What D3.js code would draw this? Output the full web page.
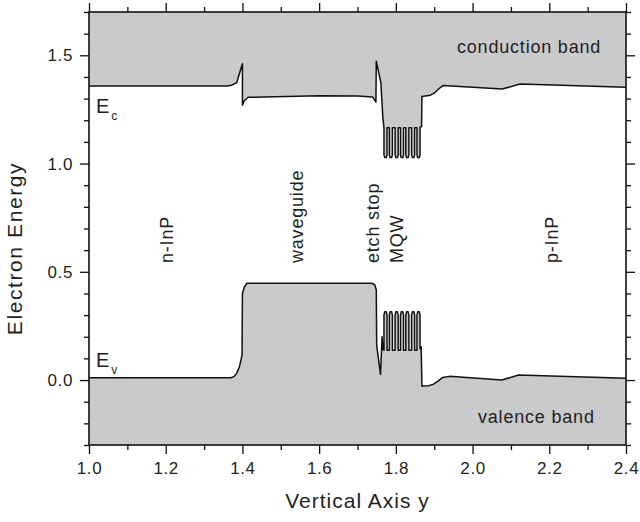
<!DOCTYPE html>
<html><head><meta charset="utf-8">
<script src="https://cdn.jsdelivr.net/npm/d3@7/dist/d3.min.js"></script>
<style>
body{margin:0;background:#fff}
text{font-family:"Liberation Sans",Arial,Helvetica,sans-serif;fill:#231f20}
</style>
</head><body>
<svg id="chart" width="640" height="522"></svg>
<script>
// ---------- data ----------
const xDomain = [1.0, 2.4];
const yDomain = [-0.3, 1.7];
const xMajorTicks = [1.0, 1.2, 1.4, 1.6, 1.8, 2.0, 2.2, 2.4];
const xMinorTicks = [1.1, 1.3, 1.5, 1.7, 1.9, 2.1, 2.3];
const yMajorTicks = [0.0, 0.5, 1.0, 1.5];
const yMinorTicks = [-0.3, -0.2, -0.1, 0.1, 0.2, 0.3, 0.4, 0.6, 0.7, 0.8, 0.9, 1.1, 1.2, 1.3, 1.4, 1.6, 1.7];
const xTickLabels = ["1.0", "1.2", "1.4", "1.6", "1.8", "2.0", "2.2", "2.4"];
const yTickLabels = ["0.0", "0.5", "1.0", "1.5"];

// conduction band edge Ec (position y, energy)
const conductionBand = [
  [1.000,1.358],[1.360,1.358],[1.372,1.362],[1.385,1.373],[1.400,1.461],[1.400,1.270],
  [1.405,1.290],[1.415,1.306],[1.600,1.313],[1.700,1.312],[1.740,1.307],[1.748,1.284],
  [1.749,1.473],[1.761,1.372],[1.766,1.215],[1.769,1.165],
  [1.769,1.040],[1.771,1.028],[1.775,1.028],[1.777,1.040],[1.777,1.165],
  [1.783,1.165],[1.783,1.040],[1.785,1.028],[1.789,1.028],[1.791,1.040],[1.791,1.165],
  [1.798,1.165],[1.798,1.040],[1.800,1.028],[1.804,1.028],[1.806,1.040],[1.806,1.165],
  [1.812,1.165],[1.812,1.040],[1.814,1.028],[1.818,1.028],[1.820,1.040],[1.820,1.165],
  [1.826,1.165],[1.826,1.040],[1.828,1.028],[1.832,1.028],[1.834,1.040],[1.834,1.165],
  [1.841,1.165],[1.841,1.040],[1.843,1.028],[1.847,1.028],[1.849,1.040],[1.849,1.165],
  [1.855,1.165],[1.855,1.040],[1.857,1.028],[1.861,1.028],[1.863,1.040],[1.863,1.168],
  [1.867,1.170],[1.868,1.310],[1.890,1.316],[1.900,1.325],[1.915,1.350],[1.923,1.360],
  [2.077,1.344],[2.124,1.367],[2.400,1.352]
];

// valence band edge Ev (position y, energy)
const valenceBand = [
  [1.000,0.011],[1.370,0.011],[1.378,0.016],[1.385,0.032],[1.392,0.060],[1.399,0.115],
  [1.400,0.400],[1.405,0.430],[1.412,0.447],[1.737,0.447],[1.745,0.440],[1.749,0.416],
  [1.750,0.160],[1.760,0.026],[1.764,0.200],[1.766,0.140],[1.769,0.138],
  [1.769,0.300],[1.771,0.315],[1.775,0.315],[1.777,0.300],[1.777,0.138],
  [1.783,0.138],[1.783,0.300],[1.785,0.315],[1.789,0.315],[1.791,0.300],[1.791,0.138],
  [1.798,0.138],[1.798,0.300],[1.800,0.315],[1.804,0.315],[1.806,0.300],[1.806,0.138],
  [1.812,0.138],[1.812,0.300],[1.814,0.315],[1.818,0.315],[1.820,0.300],[1.820,0.138],
  [1.826,0.138],[1.826,0.300],[1.828,0.315],[1.832,0.315],[1.834,0.300],[1.834,0.138],
  [1.841,0.138],[1.841,0.300],[1.843,0.315],[1.847,0.315],[1.849,0.300],[1.849,0.138],
  [1.855,0.138],[1.855,0.300],[1.857,0.315],[1.861,0.315],[1.863,0.300],[1.863,0.145],
  [1.866,0.154],[1.868,-0.028],[1.885,-0.026],[1.897,-0.020],[1.910,-0.005],[1.922,0.012],
  [1.940,0.017],[2.076,0.000],[2.120,0.023],[2.400,0.008]
];

const regionLabels = [
  {x: 1.22, text: "n-InP"},
  {x: 1.55, text: "waveguide"},
  {x: 1.75, text: "etch stop"},
  {x: 1.81, text: "MQW"},
  {x: 2.25, text: "p-InP"}
];

// ---------- drawing ----------
const svg = d3.select("#chart");
const L = 89, R = 626, T = 12, B = 445;
const x = d3.scaleLinear().domain(xDomain).range([L, R]);
const y = d3.scaleLinear().domain(yDomain).range([B, T]);
const fillGray = "#c9cacc";

svg.append("defs").append("clipPath").attr("id", "plotClip")
  .append("rect").attr("x", L).attr("y", T).attr("width", R - L).attr("height", B - T);

const plot = svg.append("g").attr("clip-path", "url(#plotClip)");

const cArea = d3.area().x(d => x(d[0])).y0(y(yDomain[1])).y1(d => y(d[1]));
const vArea = d3.area().x(d => x(d[0])).y0(y(yDomain[0])).y1(d => y(d[1]));
const line = d3.line().x(d => x(d[0])).y(d => y(d[1]));

plot.append("path").datum(conductionBand).attr("d", cArea).attr("fill", fillGray);
plot.append("path").datum(valenceBand).attr("d", vArea).attr("fill", fillGray);
plot.append("path").datum(conductionBand).attr("d", line)
  .attr("fill", "none").attr("stroke", "#111").attr("stroke-width", 1.5).attr("stroke-linejoin", "round");
plot.append("path").datum(valenceBand).attr("d", line)
  .attr("fill", "none").attr("stroke", "#111").attr("stroke-width", 1.5).attr("stroke-linejoin", "round");

// axes
function styleAxis(g) {
  g.select(".domain").remove();
  g.selectAll(".tick line").attr("stroke", "#111").attr("stroke-width", 1.3);
  g.selectAll(".tick text").attr("font-size", 17).attr("letter-spacing", "0.6px")
    .attr("fill", "#231f20").attr("font-family", '"Liberation Sans", Arial, sans-serif');
}
const fmtX = (d, i) => xTickLabels[i];
const fmtY = (d, i) => yTickLabels[i];

svg.append("g").attr("transform", `translate(0,${B})`)
  .call(d3.axisBottom(x).tickValues(xMajorTicks).tickSize(9).tickPadding(8).tickFormat(fmtX)).call(styleAxis);
svg.append("g").attr("transform", `translate(0,${B})`)
  .call(d3.axisBottom(x).tickValues(xMinorTicks).tickSize(5).tickFormat("")).call(styleAxis);
svg.append("g").attr("transform", `translate(0,${T})`)
  .call(d3.axisTop(x).tickValues(xMajorTicks).tickSize(9).tickFormat("")).call(styleAxis);
svg.append("g").attr("transform", `translate(0,${T})`)
  .call(d3.axisTop(x).tickValues(xMinorTicks).tickSize(5).tickFormat("")).call(styleAxis);

svg.append("g").attr("transform", `translate(${L},0)`)
  .call(d3.axisLeft(y).tickValues(yMajorTicks).tickSize(9).tickPadding(7).tickFormat(fmtY)).call(styleAxis);
svg.append("g").attr("transform", `translate(${L},0)`)
  .call(d3.axisLeft(y).tickValues(yMinorTicks).tickSize(5).tickFormat("")).call(styleAxis);
svg.append("g").attr("transform", `translate(${R},0)`)
  .call(d3.axisRight(y).tickValues(yMajorTicks).tickSize(9).tickFormat("")).call(styleAxis);
svg.append("g").attr("transform", `translate(${R},0)`)
  .call(d3.axisRight(y).tickValues(yMinorTicks).tickSize(5).tickFormat("")).call(styleAxis);

// frame
svg.append("rect").attr("x", L).attr("y", T).attr("width", R - L).attr("height", B - T)
  .attr("fill", "none").attr("stroke", "#111").attr("stroke-width", 1.6);

// axis titles
svg.append("text").attr("x", (L + R) / 2).attr("y", 508).attr("text-anchor", "middle")
  .attr("font-size", 21).attr("letter-spacing", "1px").text("Vertical Axis y");
svg.append("text").attr("transform", `translate(22,${(T + B) / 2 + 20}) rotate(-90)`)
  .attr("text-anchor", "middle").attr("font-size", 21).attr("letter-spacing", "1.6px").text("Electron Energy");

// region labels (rotated)
const labelBaselineX = {"n-InP": 173, "waveguide": 303, "etch stop": 379, "MQW": 403, "p-InP": 558};
regionLabels.forEach(d => {
  svg.append("text")
    .attr("transform", `translate(${labelBaselineX[d.text]},263) rotate(-90)`)
    .attr("font-size", 18).attr("letter-spacing", "0.8px").text(d.text);
});

// band names
svg.append("text").attr("x", 457).attr("y", 53).attr("font-size", 18).attr("letter-spacing", "0.8px").text("conduction band");
svg.append("text").attr("x", 478).attr("y", 423).attr("font-size", 18).attr("letter-spacing", "0.8px").text("valence band");

// Ec / Ev
const ec = svg.append("text").attr("x", 96).attr("y", 113).attr("font-size", 20);
ec.append("tspan").text("E");
ec.append("tspan").attr("font-size", 12).attr("dx", 2).attr("dy", 7).text("c");
const ev = svg.append("text").attr("x", 96).attr("y", 367).attr("font-size", 20);
ev.append("tspan").text("E");
ev.append("tspan").attr("font-size", 12).attr("dx", 2).attr("dy", 7).text("v");
</script>
</body></html>
